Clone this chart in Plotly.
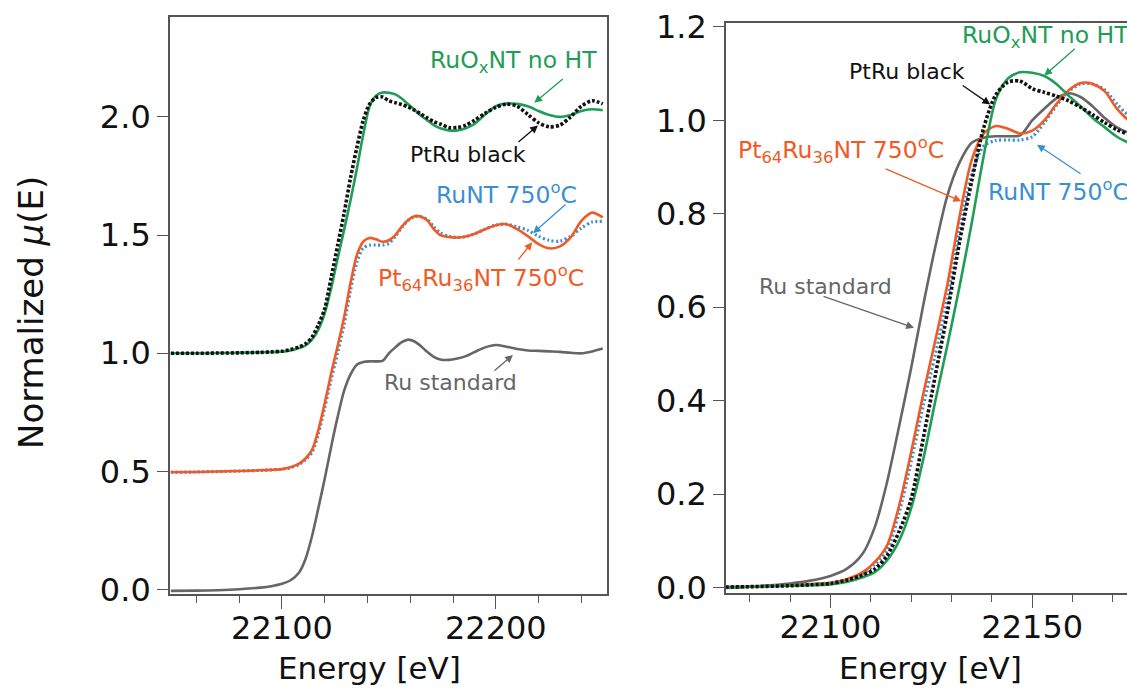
import plotly.graph_objects as go

# Ru K-edge XANES, normalized absorption
energy = [22048, 22060, 22070, 22080, 22090, 22095, 22100, 22104, 22108, 22111,
          22114, 22117, 22120, 22123, 22126, 22129, 22132, 22135, 22138, 22141,
          22144, 22147, 22150, 22153, 22156, 22159, 22162, 22165, 22168, 22171,
          22174, 22178, 22182, 22186, 22190, 22195, 22200, 22205, 22210, 22215,
          22220, 22225, 22230, 22235, 22240, 22245, 22250]

ru_standard = [-0.005, -0.004, -0.002, 0.002, 0.009, 0.015, 0.025, 0.040, 0.073, 0.13,
               0.225, 0.345, 0.47, 0.605, 0.73, 0.84, 0.91, 0.952, 0.963, 0.966,
               0.966, 0.968, 1.0, 1.025, 1.047, 1.058, 1.05, 1.03, 1.005, 0.985,
               0.974, 0.972, 0.978, 0.988, 1.005, 1.025, 1.035, 1.028, 1.018, 1.012,
               1.01, 1.008, 1.006, 1.002, 1.0, 1.008, 1.02]

pt64ru36_nt = [-0.003, -0.002, 0.0, 0.002, 0.005, 0.007, 0.010, 0.018, 0.033, 0.055,
               0.09, 0.175, 0.29, 0.415, 0.53, 0.65, 0.795, 0.915, 0.972, 0.988,
               0.982, 0.972, 0.978, 1.0, 1.035, 1.064, 1.08, 1.078, 1.062, 1.025,
               1.0, 0.992, 0.99, 0.994, 1.005, 1.025, 1.042, 1.046, 1.025, 0.995,
               0.962, 0.944, 0.952, 0.99, 1.06, 1.095, 1.075]

ru_nt = [-0.003, -0.002, 0.0, 0.002, 0.005, 0.007, 0.010, 0.016, 0.030, 0.05,
         0.08, 0.16, 0.27, 0.39, 0.50, 0.62, 0.765, 0.885, 0.945, 0.957,
         0.958, 0.958, 0.965, 0.995, 1.032, 1.062, 1.078, 1.078, 1.065, 1.035,
         1.01, 0.995, 0.99, 0.994, 1.005, 1.025, 1.042, 1.046, 1.035, 1.02,
         0.995, 0.978, 0.974, 0.995, 1.03, 1.055, 1.058]

ruox_nt = [0.0, 0.0, 0.001, 0.002, 0.004, 0.005, 0.007, 0.012, 0.022, 0.033,
           0.058, 0.10, 0.17, 0.275, 0.40, 0.52, 0.645, 0.78, 0.925, 1.045,
           1.09, 1.103, 1.102, 1.095, 1.078, 1.053, 1.03, 1.005, 0.985, 0.965,
           0.952, 0.943, 0.942, 0.952, 0.97, 1.01, 1.045, 1.056, 1.055, 1.045,
           1.025, 1.008, 1.0, 1.008, 1.025, 1.032, 1.028]

ptru_black = [0.0, 0.0, 0.001, 0.002, 0.004, 0.006, 0.009, 0.016, 0.027, 0.04,
              0.068, 0.12, 0.19, 0.32, 0.455, 0.59, 0.74, 0.87, 0.985, 1.055,
              1.082, 1.084, 1.068, 1.06, 1.052, 1.042, 1.028, 1.012, 0.995, 0.98,
              0.97, 0.955, 0.955, 0.965, 0.985, 1.015, 1.04, 1.054, 1.045, 1.01,
              0.975, 0.958, 0.965, 1.0, 1.045, 1.068, 1.055]

# vertical offsets used in the stacked (left) panel
offsets = {"Ru standard": 0.0, "RuNT 750C": 0.5, "Pt64Ru36NT 750C": 0.5,
           "RuOxNT no HT": 1.0, "PtRu black": 1.0}

GREEN = "#1f9d55"
ORANGE = "#f15a24"
BLUE = "#3a8fd3"
GRAY = "#666666"
BLACK = "#111111"
AXIS = "#555555"
FONT = "DejaVu Sans, Liberation Sans, sans-serif"

series = [
    ("Ru standard", ru_standard, GRAY, "solid", 2.6),
    ("RuNT 750C", ru_nt, BLUE, "2px,2.5px", 3.2),
    ("Pt64Ru36NT 750C", pt64ru36_nt, ORANGE, "solid", 2.6),
    ("RuOxNT no HT", ruox_nt, GREEN, "solid", 2.6),
    ("PtRu black", ptru_black, BLACK, "3px,2px", 3.6),
]

fig = go.Figure()
for name, vals, color, dash, width in series:
    off = offsets[name]
    line = dict(color=color, width=width, dash=dash, shape="spline", smoothing=0.8)
    fig.add_trace(go.Scatter(x=energy, y=[v + off for v in vals], mode="lines",
                             name=name, line=line, xaxis="x", yaxis="y",
                             showlegend=False))
    fig.add_trace(go.Scatter(x=energy, y=vals, mode="lines", name=name, line=line,
                             xaxis="x2", yaxis="y2", showlegend=False))

axis_common = dict(showline=True, linecolor=AXIS, linewidth=1.6, automargin=False,
                   ticks="outside", tickcolor=AXIS, tickwidth=1.4,
                   showgrid=False, zeroline=False,
                   tickfont=dict(family=FONT, size=32, color="#111111"))
minor_common = dict(ticklen=7, ticks="outside", tickcolor=AXIS, tickwidth=1.4)

fig.update_layout(
    width=1127, height=696,
    margin=dict(l=0, r=0, t=0, b=0),
    plot_bgcolor="white", paper_bgcolor="white",
    xaxis=dict(domain=[0.1508, 0.5386], range=[22047.6, 22252], anchor="y",
               dtick=100, tick0=22000, tickformat="d", ticklen=13, mirror=True,
               ticklabelstandoff=-8,
               minor=dict(dtick=20, **minor_common), **axis_common),
    yaxis=dict(domain=[0.1466, 0.9756], range=[-0.018, 2.4225], anchor="x",
               dtick=0.5, tickformat=".1f", ticklen=11, mirror=True, **axis_common),
    xaxis2=dict(domain=[0.6442, 1.0], range=[22074.1, 22173.5], anchor="y2",
                dtick=50, tick0=22000, tickformat="d", ticklen=13, mirror=True,
                ticklabelstandoff=-8,
                minor=dict(dtick=10, **minor_common), **axis_common),
    yaxis2=dict(domain=[0.148, 0.967], range=[-0.0115, 1.2085], anchor="x2",
                dtick=0.2, tickformat=".1f", ticklen=11, mirror=False, **axis_common),
)

annotations = []

# axis titles
annotations.append(dict(text="Normalized <i>μ</i>(E)", xref="paper", yref="paper",
                        x=0.0275, y=0.5517, xanchor="center", yanchor="middle",
                        textangle=-90, showarrow=False,
                        font=dict(family=FONT, size=34, color="#111111")))
for xc in (0.328, 0.826):
    annotations.append(dict(text="Energy [eV]", xref="paper", yref="paper",
                            x=xc, y=0.040, xanchor="center", yanchor="middle",
                            showarrow=False,
                            font=dict(family=FONT, size=31, color="#111111")))


def label(text, color, x, y, xref, yref, xanchor="center", size=22):
    annotations.append(dict(text=text, x=x, y=y, xref=xref, yref=yref,
                            xanchor=xanchor, yanchor="middle", showarrow=False,
                            font=dict(family=FONT, size=size, color=color)))


def pointer(color, x, y, ax, ay, xref, yref):
    annotations.append(dict(text="", x=x, y=y, xref=xref, yref=yref, ax=ax, ay=ay,
                            showarrow=True, arrowhead=2, arrowsize=1.2,
                            arrowwidth=1.3, arrowcolor=color, standoff=0))


ruox_txt = "RuO<sub>x</sub>NT no HT"
runt_txt = "RuNT 750<sup>o</sup>C"
pt_txt = "Pt<sub>64</sub>Ru<sub>36</sub>NT 750<sup>o</sup>C"

# stacked panel labels
label(ruox_txt, GREEN, 22208.3, 2.235, "x", "y", size=23.5)
pointer(GREEN, 22218, 2.06, 30, -25, "x", "y")
label("PtRu black", BLACK, 22186.8, 1.842, "x", "y")
pointer(BLACK, 22219.7, 1.964, -21, 18, "x", "y")
label(runt_txt, BLUE, 22204.8, 1.677, "x", "y", size=23.5)
pointer(BLUE, 22217.4, 1.508, 34, -30, "x", "y")
label(pt_txt, ORANGE, 22193.3, 1.318, "x", "y", size=23.5)
pointer(ORANGE, 22217, 1.47, -15, 19, "x", "y")
label("Ru standard", GRAY, 22178.8, 0.875, "x", "y")
pointer(GRAY, 22208, 0.993, -20, 17, "x", "y")

# edge-region panel labels (the right panel runs off the page edge)
label(ruox_txt, GREEN, 22132.1, 1.18, "x2", "y2", xanchor="left", size=23.5)
pointer(GREEN, 22153, 1.096, 32, -28, "x2", "y2")
label("PtRu black", BLACK, 22118.9, 1.105, "x2", "y2")
pointer(BLACK, 22139.6, 1.034, -29, -20, "x2", "y2")
label(pt_txt, ORANGE, 22102.5, 0.936, "x2", "y2", size=23.5)
pointer(ORANGE, 22132.4, 0.827, -77, -33, "x2", "y2")
label(runt_txt, BLUE, 22138.5, 0.85, "x2", "y2", xanchor="left", size=23.5)
pointer(BLUE, 22151.2, 0.948, 45, 30, "x2", "y2")
label("Ru standard", GRAY, 22098.7, 0.645, "x2", "y2")
pointer(GRAY, 22120.7, 0.556, -92, -32, "x2", "y2")

fig.update_layout(annotations=annotations)

fig.write_html("out.html")
